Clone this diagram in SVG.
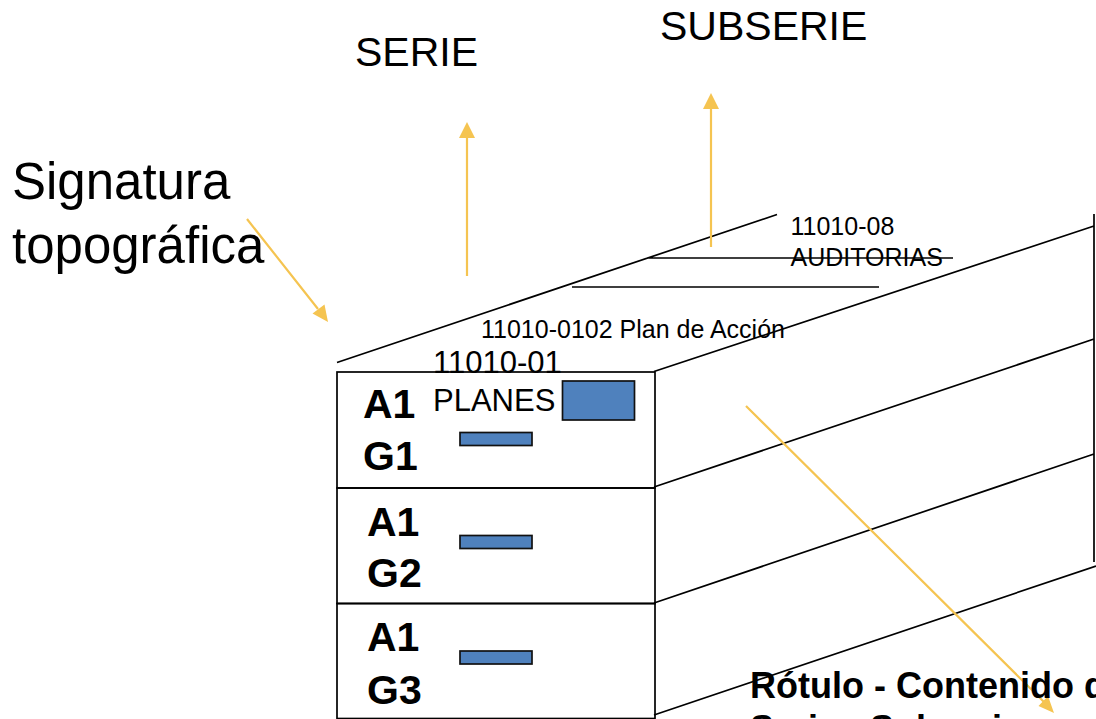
<svg xmlns="http://www.w3.org/2000/svg" width="1096" height="719" viewBox="0 0 1096 719">
<style>
text{font-family:"Liberation Sans",Arial,sans-serif;fill:#000}
.b{font-weight:bold;font-size:41px}
.r{font-size:27.5px}
.s{font-size:25px}
.l{fill:none;stroke:#000;stroke-width:1.7}
.a{fill:none;stroke:#f5c451;stroke-width:2.2}
.h{fill:#f5c451}
.bar{fill:#4f81bd;stroke:#111;stroke-width:1.7}
</style>
<rect width="1096" height="719" fill="#fff"/>
<g id="connectors">
<path class="l" d="M337 362.500L777 214.500M647 258H953M572 287H879M654 371.500L1094 226M654 487L1094 339M654 603L1094 454M654 715L1096 566M1094 214V562"/>
<path class="a" d="M467 276V136M711 247V107M247 219L318 309M746 406L1044 702"/>
<path class="h" d="M459 138L467 122L475 138ZM703 109L711 93L719 109ZM312.500 313.500L328 322L324.500 304.500ZM1038.500 706L1054 713L1048 696Z"/>
</g>
<g id="shelf-1"><rect class="l" x="337" y="372" width="318" height="116"/>
<text class="b" x="363" y="418">A1</text><text class="b" x="363" y="470">G1</text>
<rect class="bar" x="460" y="432.500" width="72" height="13"/></g>
<g id="shelf-2"><rect class="l" x="337" y="488" width="318" height="115.500"/>
<text class="b" x="367" y="536">A1</text><text class="b" x="367" y="587">G2</text>
<rect class="bar" x="460" y="535.500" width="72" height="13"/></g>
<g id="shelf-3"><rect class="l" x="337" y="603.500" width="318" height="115"/>
<text class="b" x="367" y="651">A1</text><text class="b" x="367" y="704">G3</text>
<rect class="bar" x="460" y="651" width="72" height="13"/></g>
<g id="box"><rect class="bar" x="562.500" y="381" width="72" height="39"/></g>
<g id="labels">
<text x="355" y="66" font-size="41px">SERIE</text>
<text x="660" y="40" font-size="41px">SUBSERIE</text>
<text x="12" y="199" font-size="51px">Signatura</text>
<text x="12" y="263" font-size="51px">topográfica</text>
<text class="s" x="790.500" y="235">11010-08</text>
<text class="s" x="790.500" y="266">AUDITORIAS</text>
<text class="s" x="481" y="338">11010-0102 Plan de Acción</text>
<text x="433" y="373" font-size="31px">11010-01</text>
<text x="433" y="411" font-size="31px">PLANES</text>
<text x="750" y="698" font-size="36px" font-weight="bold">Rótulo - Contenido de</text>
<text x="750" y="741" font-size="36px" font-weight="bold">Serie - Subserie</text>
</g>
</svg>
